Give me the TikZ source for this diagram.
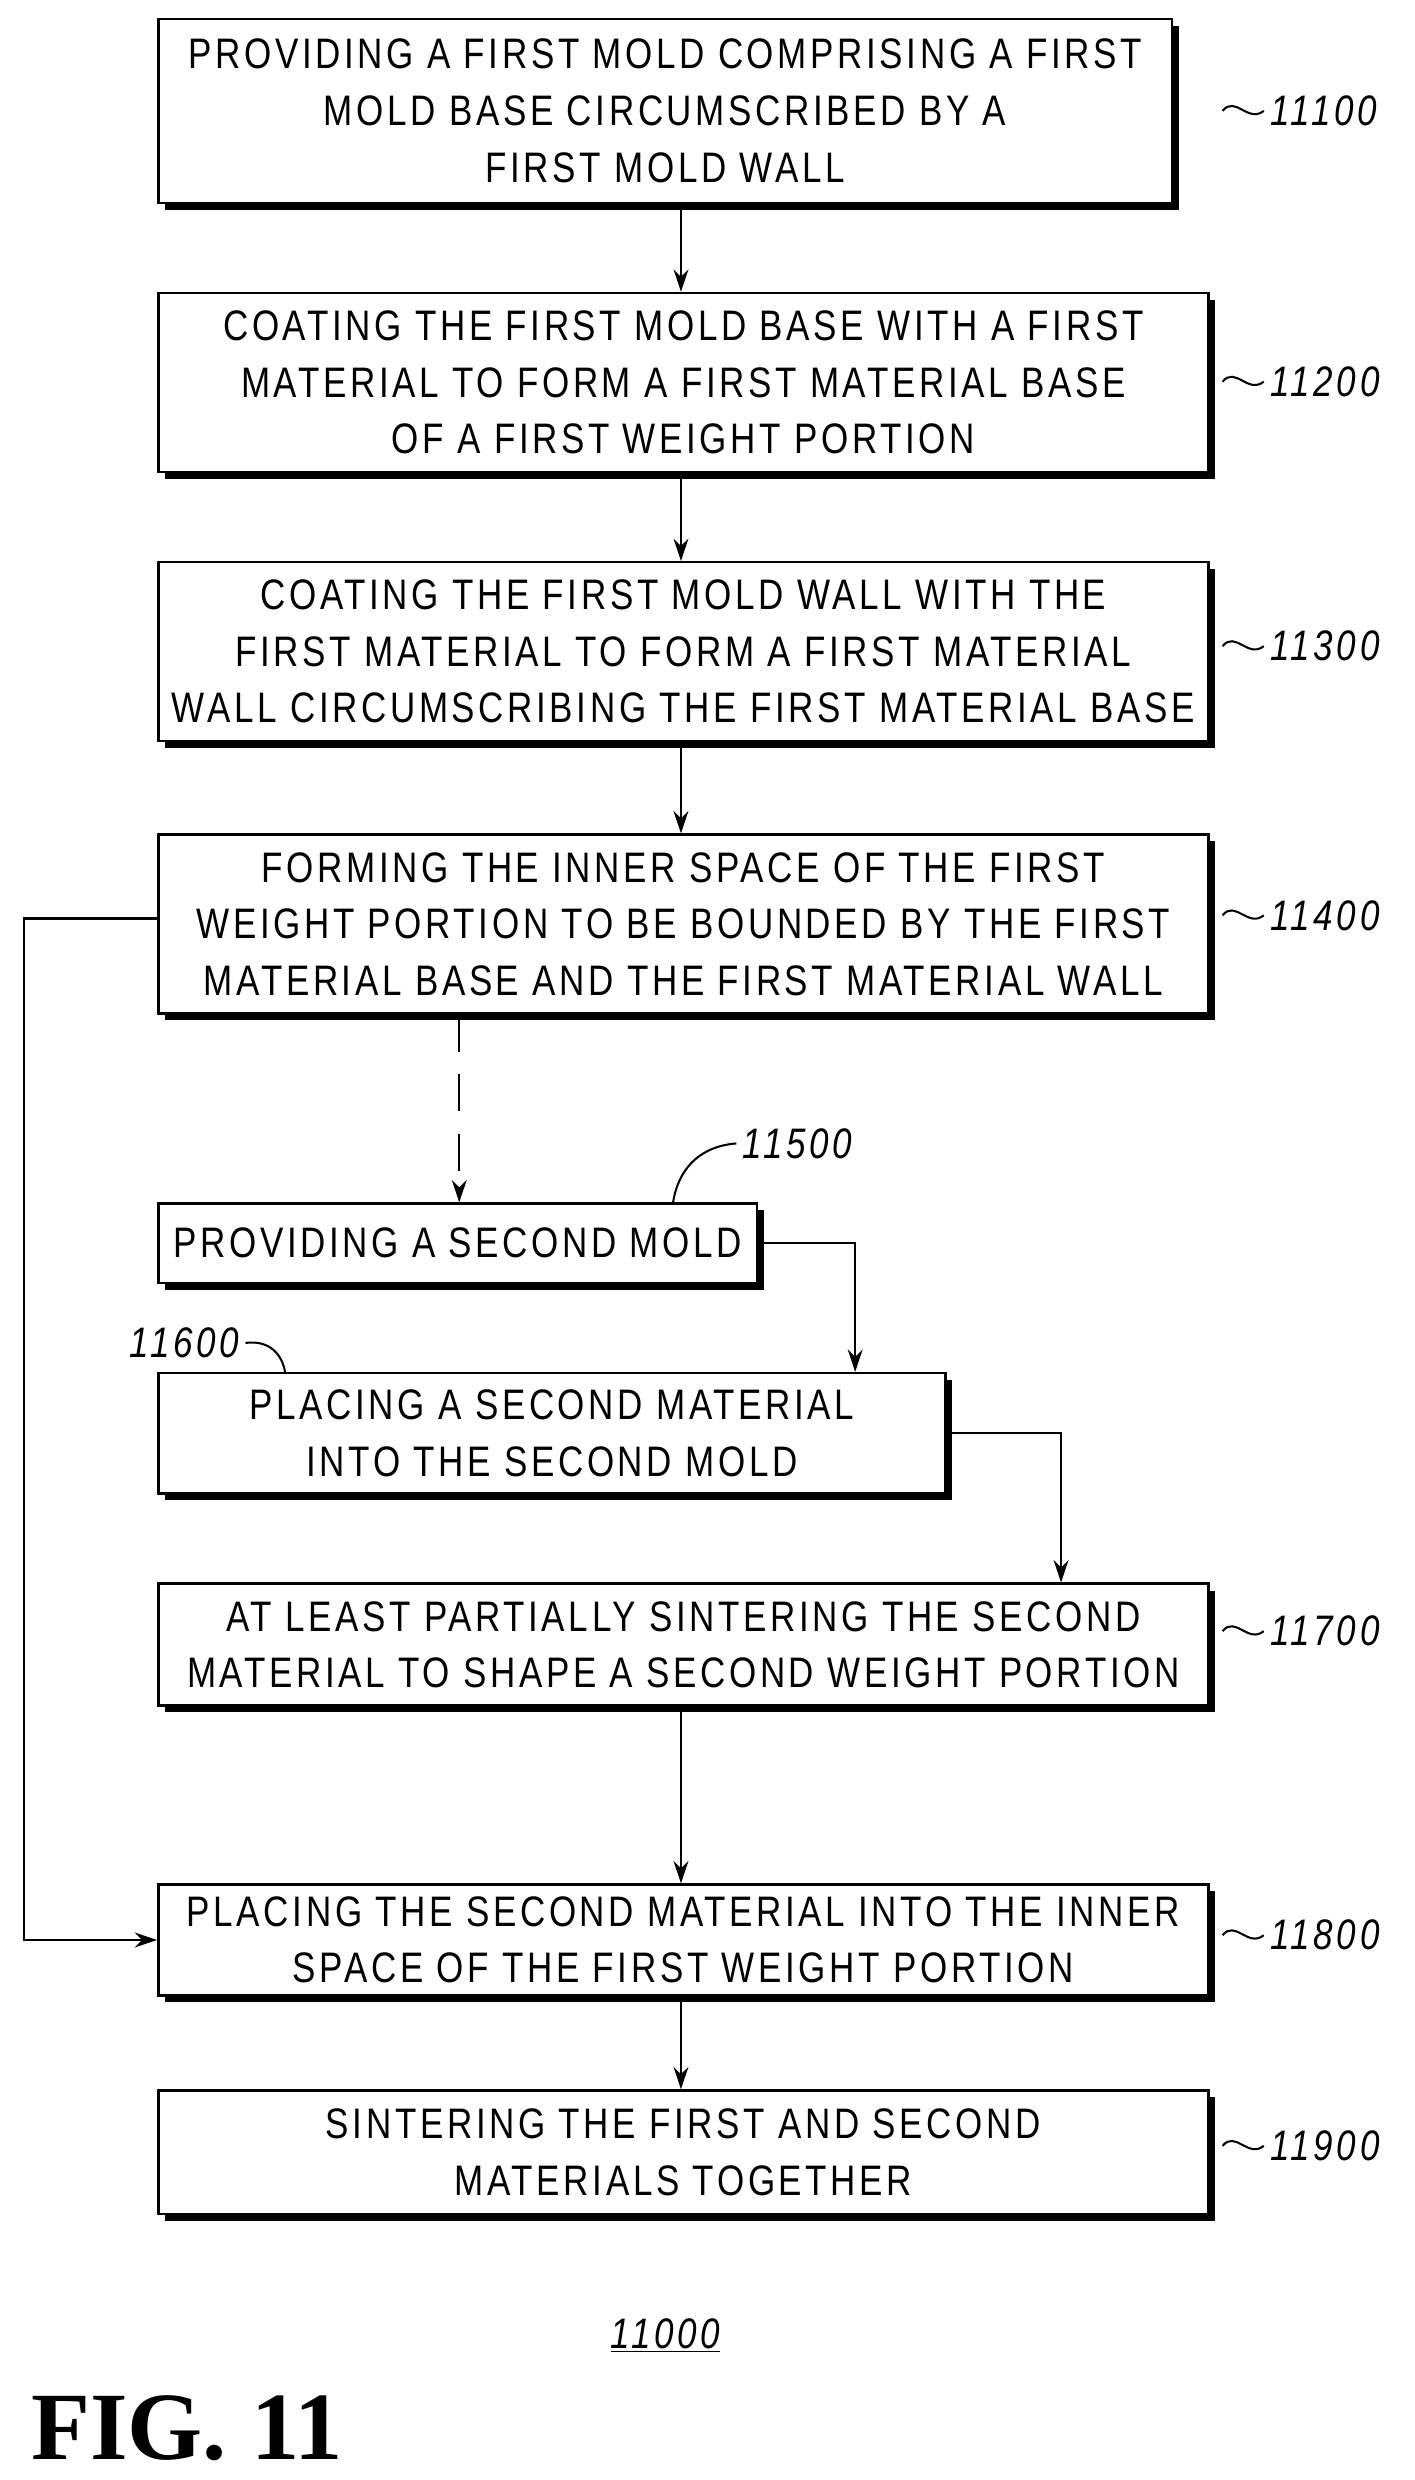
\documentclass[tikz,border=0pt]{standalone}
\usepackage{fontspec}
\setmainfont{Liberation Sans}[FakeStretch=0.82,LetterSpace=8.5]
\newfontfamily\figfont{Liberation Serif}
\usetikzlibrary{shadows,arrows.meta}
\begin{document}
\begin{tikzpicture}[x=0.03cm,y=-0.03cm,
  box/.style={draw,line width=1.3pt,fill=white,align=center,inner sep=0pt,
    font=\fontsize{23}{30.5}\selectfont,
    drop shadow={shadow xshift=0.13cm,shadow yshift=-0.13cm,fill=black,opacity=1}},
  arr/.style={line width=1.3pt,-{Stealth[length=12pt,width=8pt]}},
  lab/.style={font=\itshape\fontsize{23}{28}\selectfont,anchor=west}]
\useasboundingbox (0,0) rectangle (893,1566);
\node[box,minimum width=640*0.03cm,minimum height=116*0.03cm] (b1) at (420,70) {PROVIDING A FIRST MOLD COMPRISING A FIRST\\MOLD BASE CIRCUMSCRIBED BY A\\FIRST MOLD WALL};
\node[box,minimum width=663*0.03cm,minimum height=113*0.03cm] (b2) at (431.5,241.5) {COATING THE FIRST MOLD BASE WITH A FIRST\\MATERIAL TO FORM A FIRST MATERIAL BASE\\OF A FIRST WEIGHT PORTION};
\node[box,minimum width=663*0.03cm,minimum height=113*0.03cm] (b3) at (431.5,411.5) {COATING THE FIRST MOLD WALL WITH THE\\FIRST MATERIAL TO FORM A FIRST MATERIAL\\WALL CIRCUMSCRIBING THE FIRST MATERIAL BASE};
\node[box,minimum width=663*0.03cm,minimum height=113*0.03cm] (b4) at (431.5,583.5) {FORMING THE INNER SPACE OF THE FIRST\\WEIGHT PORTION TO BE BOUNDED BY THE FIRST\\MATERIAL BASE AND THE FIRST MATERIAL WALL};
\node[box,minimum width=378*0.03cm,minimum height=50*0.03cm] (b5) at (289,785) {PROVIDING A SECOND MOLD};
\node[box,minimum width=497*0.03cm,minimum height=76*0.03cm] (b6) at (348.5,905) {PLACING A SECOND MATERIAL\\INTO THE SECOND MOLD};
\node[box,minimum width=663*0.03cm,minimum height=77*0.03cm] (b7) at (431.5,1038.5) {AT LEAST PARTIALLY SINTERING THE SECOND\\MATERIAL TO SHAPE A SECOND WEIGHT PORTION};
\node[box,minimum width=663*0.03cm,minimum height=70*0.03cm] (b8) at (431.5,1225) {PLACING THE SECOND MATERIAL INTO THE INNER\\SPACE OF THE FIRST WEIGHT PORTION};
\node[box,minimum width=663*0.03cm,minimum height=78*0.03cm] (b9) at (431.5,1359) {SINTERING THE FIRST AND SECOND\\MATERIALS TOGETHER};
\foreach \n/\y/\t in {b1/70/11100,b2/241/11200,b3/408/11300,b4/578/11400,b7/1030/11700,b8/1222/11800,b9/1355/11900}{
  \coordinate (s\n) at (772,\y);
  \node[lab] (l\n) at (798,\y) {\t};
  \draw[line width=1.1pt] (s\n) .. controls (780,\y-10) and (788,\y+8) .. (l\n.west);
}
\draw[arr] (b1.south -| 430,0) -- (b2.north -| 430,0);
\draw[arr] (b2.south -| 430,0) -- (b3.north -| 430,0);
\draw[arr] (b3.south -| 430,0) -- (b4.north -| 430,0);
\draw[arr,dash pattern=on 20pt off 12pt] (b4.south -| 290,0) -- (b5.north -| 290,0);
\draw[arr] (b5.east) -| (b6.north -| 540,0);
\draw[arr] (b6.east) -| (b7.north -| 670,0);
\draw[arr] (b7.south -| 430,0) -- (b8.north -| 430,0);
\draw[arr] (b8.south -| 430,0) -- (b9.north -| 430,0);
\coordinate (c1) at (15,580);
\coordinate (c2) at (15,1225);
\draw[arr] (b4.west |- c1) -- (c1) -- (c2) -- (b8.west);
\node[lab] (l5) at (465,722) {11500};
\draw[line width=1.1pt] (l5.west) .. controls (440,724) and (428,740) .. (b5.north -| 425,0);
\node[lab,anchor=east] (l6) at (155,848) {11600};
\draw[line width=1.1pt] (l6.east) .. controls (170,846) and (178,855) .. (b6.north -| 180,0);
\node[lab,anchor=center] (fig) at (420,1475) {\underline{11000}};
\node[font=\figfont\bfseries\fontsize{52}{60}\selectfont,inner sep=0pt] (figl) at (118,1533) {FIG. 11};
\end{tikzpicture}
\end{document}
